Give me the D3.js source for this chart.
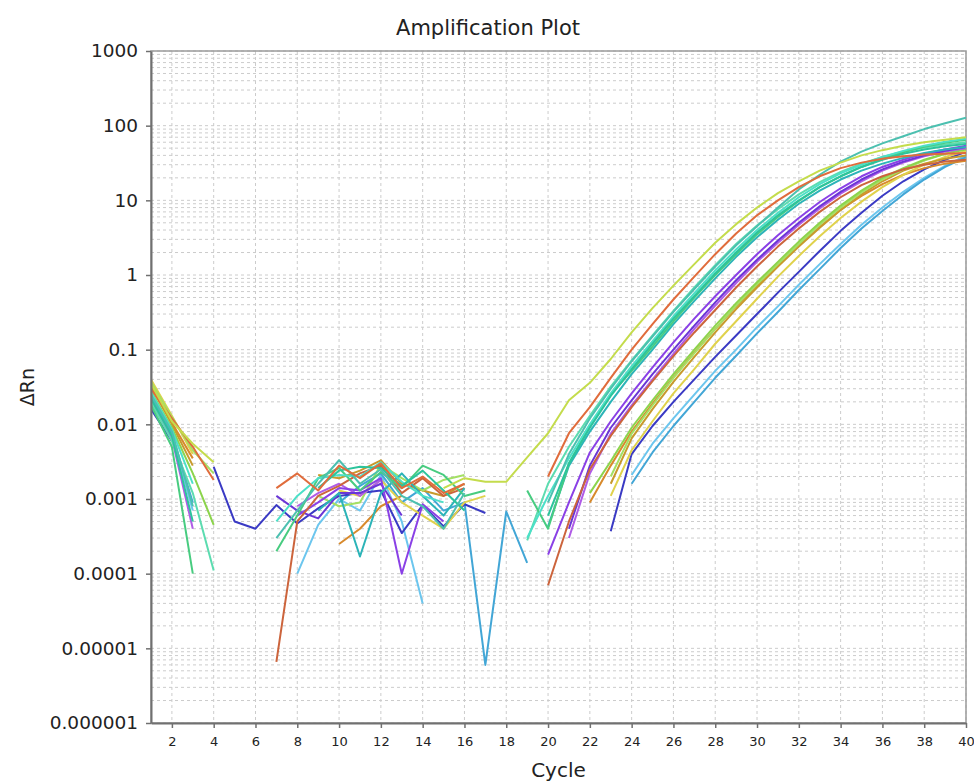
<!DOCTYPE html>
<html>
<head>
<meta charset="utf-8">
<script src="https://cdn.jsdelivr.net/npm/d3@7"></script>
<style>
body { margin: 0; background: #fff; }
text { font-family: "DejaVu Sans", sans-serif; fill: #222; }
</style>
</head>
<body>
<div id="chart"></div>
<script>
var _ = null;

var cycles = [1,2,3,4,5,6,7,8,9,10,11,12,13,14,15,16,17,18,19,20,
              21,22,23,24,25,26,27,28,29,30,31,32,33,34,35,36,37,38,39,40];
var xTickValues = [2,4,6,8,10,12,14,16,18,20,22,24,26,28,30,32,34,36,38,40];
var yTickValues = [0.000001,0.00001,0.0001,0.001,0.01,0.1,1,10,100,1000];
var yTickLabels = ["0.000001","0.00001","0.0001","0.001","0.01","0.1","1","10","100","1000"];

// delta Rn per well, cycles 1..40 (null = not positive, not drawn on log axis)
var wellA = [0.035,0.011,0.0055,0.0031,_,_,_,_,_,_,
             _,_,_,_,0.0014,0.0019,0.0017,0.0017,0.0036,0.0076,
             0.021,0.036,0.075,0.17,0.36,0.72,1.4,2.7,4.8,8,
             12.5,18,25,32,40,47,54,60,65,70];
var wellB = [0.03,0.012,0.005,0.0018,_,_,0.0014,0.0022,0.0013,0.0028,
             0.0019,0.003,0.0014,0.002,0.0012,0.0016,_,_,_,0.002,
             0.0076,0.017,0.042,0.1,0.22,0.47,0.95,1.9,3.6,6.3,
             10,15,21,27,32,36,39,41,42,43];
var wellB2 = [_,_,_,_,_,_,0.0000066,0.0005,0.0011,0.0015,
              0.0022,0.0028,0.0012,0.0019,0.0011,0.0014,_,_,_,0.00007,
              0.0005,0.0025,0.007,0.017,0.038,0.082,0.17,0.34,0.68,1.3,
              2.4,4.2,7,11,16,21,26,30,33,35];
var wellC1 = [0.025,0.008,0.0008,_,_,_,0.0003,0.0007,0.0016,0.0033,
              0.0016,0.0025,0.0011,0.0008,0.0004,0.0012,_,_,_,0.0009,
              0.004,0.012,0.03,0.07,0.15,0.32,0.65,1.3,2.5,4.5,
              8,14,22,33,45,58,72,90,108,128];
var wellC2 = [0.022,0.007,0.0005,_,_,_,_,_,0.0014,0.0024,
              0.0027,0.0026,0.0015,0.0024,0.0013,0.0007,_,_,_,0.0006,
              0.003,0.009,0.024,0.055,0.12,0.26,0.52,1.05,2.0,3.7,
              6.3,10,15,21,28,35,42,48,53,57];
var wellC3 = [0.027,0.0085,0.0016,_,_,_,0.0005,0.0011,0.0019,0.0021,
              0.002,0.0031,0.0017,0.0011,0.0009,_,_,_,0.0003,0.0011,
              0.0035,0.01,0.026,0.06,0.13,0.28,0.57,1.15,2.2,4.0,
              6.8,11,16.5,23,30,38,46,54,61,67];
var wellC4 = [_,_,_,_,_,_,_,_,0.0007,0.0012,
              0.00017,0.0012,0.0022,0.0011,0.0006,0.0014,_,_,_,0.00043,
              0.0028,0.008,0.02,0.047,0.1,0.22,0.45,0.9,1.75,3.2,
              5.5,9,13.5,19,25,31,37,43,48,52];
var wellC5 = [0.018,0.005,0.0001,_,_,_,0.0002,0.0006,0.0019,0.0026,
              0.0013,0.0023,0.0014,0.0028,0.0021,0.0011,0.0013,_,0.0013,0.0004,
              0.003,0.0095,0.025,0.052,0.11,0.24,0.5,1.0,1.9,3.5,
              6.0,9.8,15,21,28,36,44,52,59,65];
var wellC6 = [0.02,0.006,0.0012,0.00011,_,_,_,_,_,_,
              _,_,_,_,_,_,_,_,0.00028,0.0016,
              0.005,0.013,0.032,0.072,0.155,0.33,0.68,1.35,2.6,4.6,
              7.6,12,17.5,24,31,38,45,51,56,60];
var wellD1 = [_,_,_,_,_,_,_,0.0006,0.0009,0.0014,
              0.0013,0.0019,0.0001,0.00085,0.0005,_,_,_,_,0.00018,
              0.0009,0.0042,0.011,0.026,0.058,0.125,0.26,0.52,1.0,1.9,
              3.4,5.8,9.5,14.5,21,28,35,42,48,54];
var wellD2 = [_,_,_,_,_,_,0.0011,0.0007,0.00055,0.0012,
              0.0012,0.0016,0.0006,_,_,_,_,_,_,_,
              0.0004,0.0028,0.009,0.021,0.047,0.1,0.21,0.43,0.85,1.6,
              2.9,5.0,8.3,13,19,26,33,40,46,52];
var wellD3 = [0.02,0.0065,0.0004,_,_,_,_,0.0008,0.0012,0.0016,
              0.0011,0.0018,_,_,_,_,_,_,_,_,
              0.0003,0.0022,0.0075,0.018,0.04,0.088,0.19,0.39,0.78,1.5,
              2.7,4.7,7.8,12.3,18,25,32,39,45,50];
var wellE1 = [0.028,0.009,0.0022,0.00045,_,_,_,_,_,_,
              _,_,_,_,_,_,_,_,_,_,
              _,0.0012,0.0032,0.009,0.021,0.047,0.1,0.21,0.42,0.8,
              1.5,2.8,5,8.5,13.5,20,27,35,42,48];
var wellE2 = [0.033,0.01,0.0028,_,_,_,_,_,0.0021,0.0019,
              0.0024,0.0033,0.0016,0.0013,0.0011,0.0016,_,_,_,_,
              _,_,0.0016,0.0065,0.016,0.037,0.08,0.17,0.35,0.68,
              1.3,2.4,4.3,7.4,12,18,25,31,36,40];
var wellE3 = [0.04,0.013,0.004,_,_,_,_,_,_,0.0013,
              0.0011,0.0018,0.0009,0.0006,0.0004,0.0009,0.0011,_,_,_,
              _,_,0.0011,0.0045,0.011,0.026,0.055,0.12,0.24,0.48,
              0.95,1.8,3.3,5.8,9.6,15,22,30,38,46];
var wellE4 = [0.037,0.0125,0.0045,0.0022,_,_,_,_,0.0011,0.0008,
              0.0009,0.0029,0.0019,0.0013,0.0018,0.0021,_,_,_,_,
              _,_,0.002,0.0075,0.018,0.042,0.09,0.19,0.39,0.75,
              1.4,2.6,4.7,8,12.8,19,26,34,42,50];
var wellE5 = [0.031,0.0105,0.0035,_,_,_,_,_,_,0.00025,
              0.0004,0.0008,0.0011,_,_,_,_,_,_,_,
              _,0.0009,0.0028,0.008,0.019,0.043,0.092,0.19,0.38,0.72,
              1.35,2.5,4.4,7.5,11.5,16.5,22,27,31,34];
var wellF = [0.016,0.006,_,0.0027,0.0005,0.0004,0.00083,0.00047,0.00075,0.0011,
             0.0012,0.0013,0.00035,0.00083,0.00043,0.00085,0.00065,_,_,_,
             _,_,0.00037,0.004,0.0095,0.02,0.04,0.08,0.155,0.3,
             0.58,1.1,2.1,3.9,6.8,11.5,18,26,35,45];
var wellG1 = [0.024,0.0075,0.0009,_,_,_,_,_,_,0.0009,
              0.0015,0.0022,0.0009,0.0014,0.0007,0.0009,0.000006,0.00068,0.00014,_,
              _,_,_,0.0016,0.0042,0.0095,0.02,0.042,0.083,0.165,
              0.32,0.63,1.2,2.3,4.2,7.2,12,19,28,38];
var wellG2 = [0.021,0.007,0.0007,_,_,_,_,0.0001,0.00045,0.001,
              0.0007,0.0021,0.0005,0.00004,_,_,_,_,_,_,
              _,_,_,0.0021,0.0055,0.012,0.025,0.052,0.1,0.2,
              0.38,0.74,1.4,2.6,4.7,8,13,20,29,40];

var wellValues = [wellG2, wellG1, wellF, wellE5, wellE3, wellE2, wellE4, wellE1,
                  wellD3, wellD2, wellD1, wellB2, wellC4, wellC6, wellC5, wellC3,
                  wellC2, wellC1, wellB, wellA];
var wellColors = ["#6cc6ee", "#42a6d6", "#3a3ac4", "#d88a2c", "#e0d24c", "#c89a2c", "#a4e064", "#8cd44c",
                  "#b05ce6", "#6a36d6", "#8a40e6", "#cc643c", "#2cb4b8", "#5cdcb0", "#48cc80", "#4ce0c8",
                  "#2cc49c", "#4cc0b0", "#e06c3c", "#c4dc4c"];

var svgWidth = 974, svgHeight = 784;
var margin = { top: 51, right: 8, bottom: 61, left: 151 };
var width = svgWidth - margin.left - margin.right;
var height = svgHeight - margin.top - margin.bottom;

var svg = d3.select("#chart").append("svg")
    .attr("width", svgWidth)
    .attr("height", svgHeight);

var g = svg.append("g")
    .attr("transform", "translate(" + margin.left + "," + margin.top + ")");

var x = d3.scaleLinear().domain([1, 40]).range([0, width]);
var y = d3.scaleLog().domain([0.000001, 1000]).range([height, 0]);

// grid
g.append("g").selectAll("line")
    .data(y.ticks())
    .enter().append("line")
    .attr("x1", 0).attr("x2", width)
    .attr("y1", function(d) { return y(d); })
    .attr("y2", function(d) { return y(d); })
    .attr("stroke", "#cccccc")
    .attr("stroke-dasharray", "3,3");

g.append("g").selectAll("line")
    .data(xTickValues)
    .enter().append("line")
    .attr("x1", function(d) { return x(d); })
    .attr("x2", function(d) { return x(d); })
    .attr("y1", 0).attr("y2", height)
    .attr("stroke", "#cccccc")
    .attr("stroke-dasharray", "3,3");

g.append("rect")
    .attr("width", width).attr("height", height)
    .attr("fill", "none")
    .attr("stroke", "#9a9a9a")
    .attr("stroke-width", 1.5);

g.append("clipPath").attr("id", "plotClip")
    .append("rect").attr("width", width).attr("height", height);

var line = d3.line()
    .defined(function(d) { return d.v != null && d.v > 0; })
    .x(function(d) { return x(d.c); })
    .y(function(d) { return y(d.v); });

g.append("g")
    .attr("clip-path", "url(#plotClip)")
    .selectAll("path")
    .data(wellValues)
    .enter().append("path")
    .attr("fill", "none")
    .attr("stroke", function(d, i) { return wellColors[i]; })
    .attr("stroke-width", 2)
    .attr("stroke-linejoin", "round")
    .attr("d", function(vals) {
        return line(cycles.map(function(c, i) { return { c: c, v: vals[i] }; }));
    });

// axes
var yAxis = g.append("g")
    .call(d3.axisLeft(y).tickValues(yTickValues)
        .tickFormat(function(d, i) { return yTickLabels[i]; })
        .tickSize(5).tickSizeOuter(0).tickPadding(8));
yAxis.selectAll("text").style("font-size", "18.5px").attr("fill", "#222");

var xAxis = g.append("g")
    .attr("transform", "translate(0," + height + ")")
    .call(d3.axisBottom(x).tickValues(xTickValues).tickSize(5).tickSizeOuter(0).tickPadding(9));
xAxis.selectAll("text").style("font-size", "13px").attr("fill", "#333");

svg.selectAll(".domain").attr("stroke", "#707070").attr("stroke-width", 2);
svg.selectAll(".tick line").attr("stroke", "#707070").attr("stroke-width", 1.5);

svg.append("text")
    .attr("x", 488).attr("y", 35)
    .attr("text-anchor", "middle")
    .style("font-size", "21px")
    .text("Amplification Plot");

svg.append("text")
    .attr("transform", "translate(34," + (margin.top + height / 2) + ") rotate(-90)")
    .attr("text-anchor", "middle")
    .style("font-size", "19px")
    .text("ΔRn");

svg.append("text")
    .attr("x", margin.left + width / 2).attr("y", 777)
    .attr("text-anchor", "middle")
    .style("font-size", "20px")
    .text("Cycle");
</script>
</body>
</html>
